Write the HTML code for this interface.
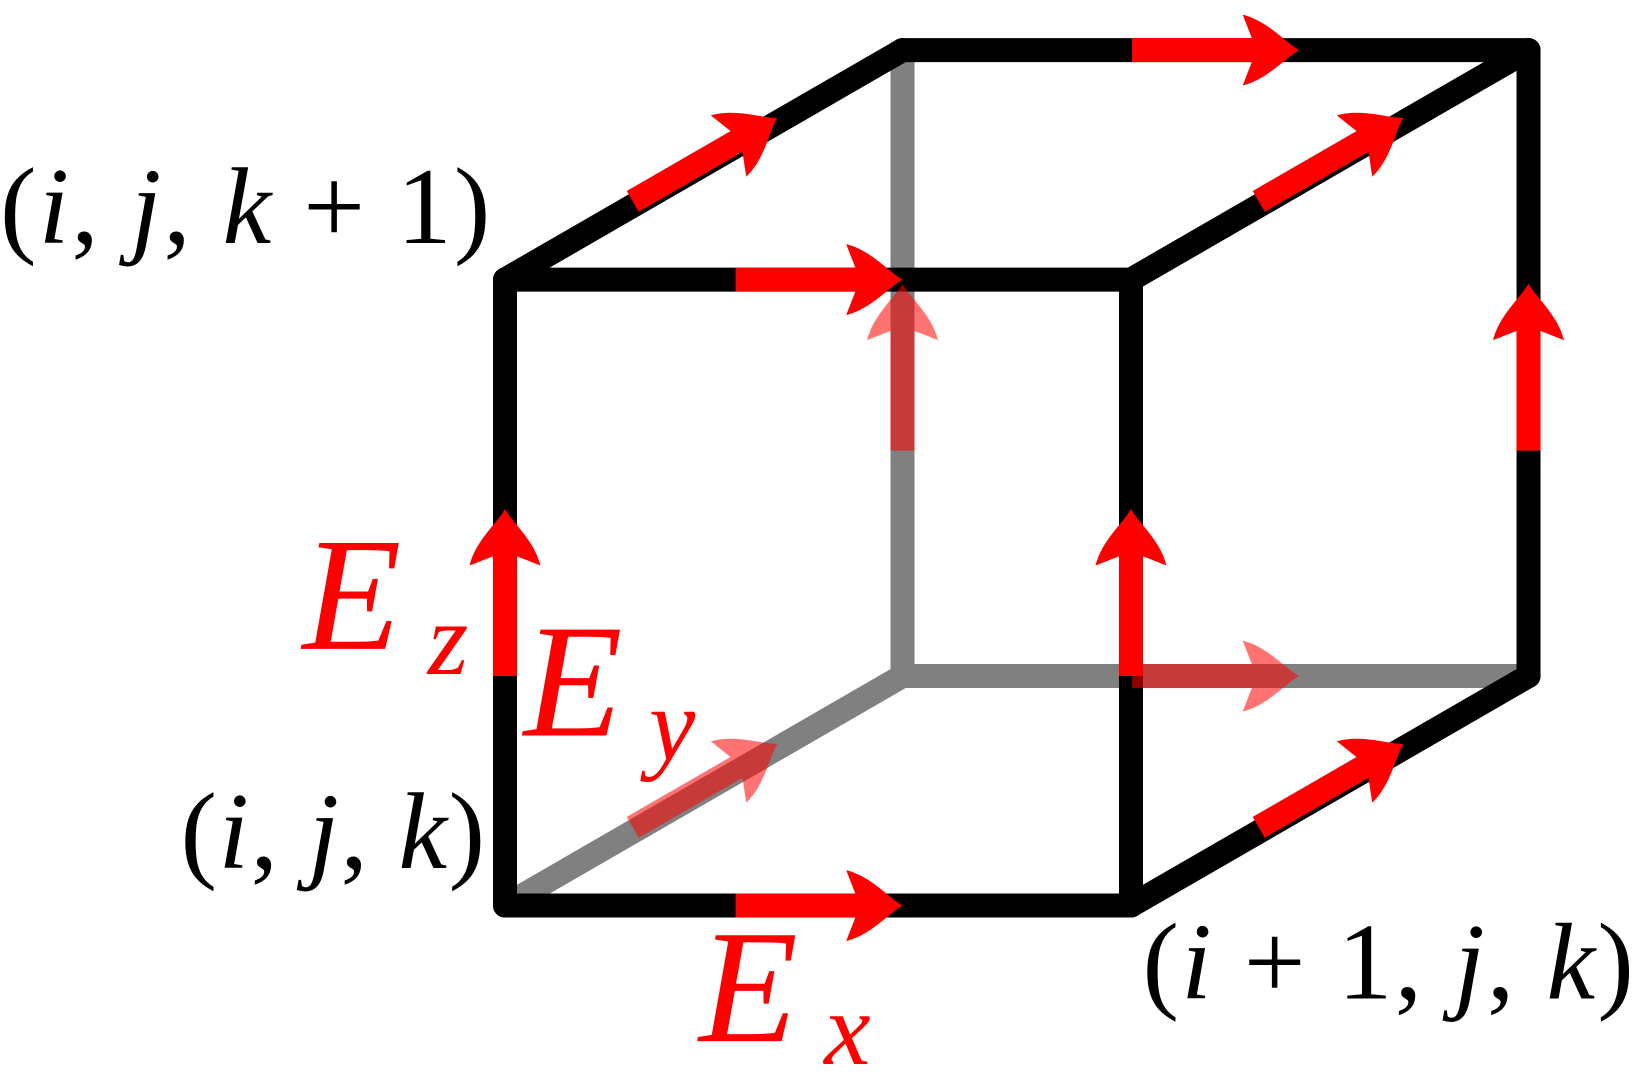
<!DOCTYPE html>
<html><head><meta charset="utf-8"><style>
html,body{margin:0;padding:0;background:#fff;}
svg{display:block;}
text{font-family:"Liberation Serif",serif;}
</style></head><body>
<svg width="1636" height="1085" viewBox="0 0 1568 1040" preserveAspectRatio="none" xmlns="http://www.w3.org/2000/svg">
<defs>
<g id="ah">
<rect x="-160" y="-11.5" width="122" height="23"/>
<path d="M0,0 C-14,-8 -30,-28 -54,-34 L-45,-11 L-45,11 L-54,34 C-30,28 -14,8 0,0 Z"/>
</g>
</defs>
<g stroke-linecap="round" stroke-linejoin="round" stroke-width="23" fill="none">
<!-- hidden edges -->
<g stroke="#808080">
<line x1="865" y1="48" x2="865" y2="648"/>
<line x1="865" y1="648" x2="1465" y2="648"/>
<line x1="484" y1="868" x2="865" y2="648"/>
</g>
<g stroke="#000">
<line x1="484" y1="268" x2="1084" y2="268"/>
<line x1="484" y1="868" x2="1084" y2="868"/>
<line x1="484" y1="268" x2="484" y2="868"/>
<line x1="1084" y1="268" x2="1084" y2="868"/>
<line x1="865" y1="48" x2="1465" y2="48"/>
<line x1="1465" y1="48" x2="1465" y2="648"/>
<line x1="484" y1="268" x2="865" y2="48"/>
<line x1="1084" y1="268" x2="1465" y2="48"/>
<line x1="1084" y1="868" x2="1465" y2="648"/>
</g>
</g>
<g fill="#f00">
<use href="#ah" transform="translate(1245,48)"/>
<use href="#ah" transform="translate(865,268)"/>
<use href="#ah" transform="translate(865,868)"/>
<use href="#ah" transform="translate(484,488) rotate(-90)"/>
<use href="#ah" transform="translate(1084,488) rotate(-90)"/>
<use href="#ah" transform="translate(1465,272) rotate(-90)"/>
<use href="#ah" transform="translate(745,113) rotate(-30)"/>
<use href="#ah" transform="translate(1345,113) rotate(-30)"/>
<use href="#ah" transform="translate(1345,713) rotate(-30)"/>
</g>
<g fill="#f00" opacity="0.55">
<use href="#ah" transform="translate(865,272) rotate(-90)"/>
<use href="#ah" transform="translate(1245,648)"/>
<use href="#ah" transform="translate(745,713) rotate(-30)"/>
</g>
<g font-size="105" fill="#000">
<text x="0" y="233" textLength="470" lengthAdjust="spacing">(<tspan font-style="italic">i</tspan>, <tspan font-style="italic">j</tspan>, <tspan font-style="italic">k</tspan> + 1)</text>
<text x="173" y="832" textLength="292" lengthAdjust="spacing">(<tspan font-style="italic">i</tspan>, <tspan font-style="italic">j</tspan>, <tspan font-style="italic">k</tspan>)</text>
<text x="1095" y="957" textLength="471" lengthAdjust="spacing">(<tspan font-style="italic">i</tspan> + 1, <tspan font-style="italic">j</tspan>, <tspan font-style="italic">k</tspan>)</text>
</g>
<g fill="#f00" font-style="italic">
<text x="290" y="622" font-size="155">E</text>
<text x="410" y="646" font-size="100">z</text>
<text x="502" y="705" font-size="155">E</text>
<text x="622" y="728" font-size="100">y</text>
<text x="670" y="998" font-size="155">E</text>
<text x="790" y="1020" font-size="100">x</text>
</g>
</svg>
</body></html>
